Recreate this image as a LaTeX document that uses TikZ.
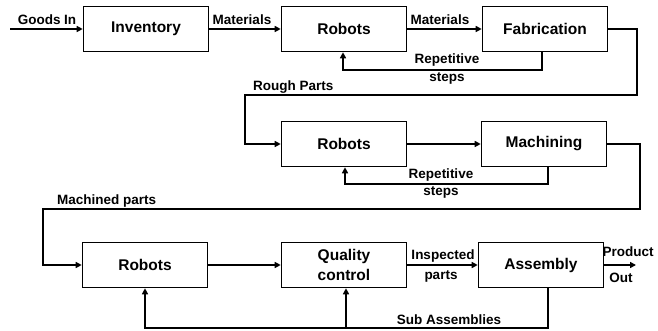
\documentclass[tikz,border=0pt]{standalone}
\usepackage{fontspec}
\setmainfont{Liberation Sans}
\usetikzlibrary{arrows.meta}
\begin{document}
\begin{tikzpicture}[x=1pt,y=-1pt,
  box/.style={draw,line width=1.6pt,minimum width=125pt,minimum height=45pt,inner sep=0pt,align=center,font=\fontsize{15.5}{20}\selectfont\bfseries},
  lbl/.style={inner sep=0pt,font=\fontsize{13.5}{15}\selectfont\bfseries},
  line/.style={line width=1.6pt},
  arr/.style={line width=1.6pt,-{Triangle[length=6pt,width=6pt]}}]
\useasboundingbox (0,0) rectangle (658,331);
% boxes
\node[box] (inv)  at (146,29) {Inventory};
\node[box] (rob1) at (344,29) {Robots};
\node[box] (fab)  at (545,29) {Fabrication};
\node[box] (rob2) at (344,144) {Robots};
\node[box] (mach) at (544,144) {Machining};
\node[box] (rob3) at (145,265) {Robots};
\node[box] (qc)   at (344,265) {Quality\\control};
\node[box] (asm)  at (541,265) {Assembly};
% coordinates
\coordinate (gin) at (10,29);
\coordinate (r1a) at (542,70);
\coordinate (r1b) at (343,70);
\coordinate (rpa) at (637,95);
\coordinate (rpb) at (245,144);
\coordinate (r2a) at (548,184);
\coordinate (r2b) at (345,184);
\coordinate (mpa) at (640,209);
\coordinate (mpb) at (43,265);
\coordinate (pout) at (636,265);
\coordinate (sa1) at (548,328);
\coordinate (sa2) at (145,328);
\coordinate (sa3) at (346,328);
% row 1
\draw[arr] (gin) -- (inv.west);
\draw[arr] (inv.east) -- (rob1.west);
\draw[arr] (rob1.east) -- (fab.west);
\draw[arr] (fab.south -| r1a) -- (r1a) -- (r1b) -- (rob1.south -| r1b);
\draw[arr] (fab.east) -| (rpa) -| (rpb) -- (rob2.west);
% row 2
\draw[arr] (rob2.east) -- (mach.west);
\draw[arr] (mach.south -| r2a) -- (r2a) -- (r2b) -- (rob2.south -| r2b);
\draw[arr] (mach.east) -| (mpa) -| (mpb) -- (rob3.west);
% row 3
\draw[arr] (rob3.east) -- (qc.west);
\draw[arr] (qc.east) -- (asm.west);
\draw[arr] (asm.east) -- (pout);
\draw[arr] (asm.south -| sa1) -- (sa1) -- (sa2) -- (rob3.south);
\draw[arr] (sa3) -- (qc.south -| sa3);
% labels
\node[lbl] (l1) at (47,20) {Goods In};
\node[lbl] (l2) at (242,20) {Materials};
\node[lbl] (l3) at (440,20) {Materials};
\node[lbl] (l4) at (447,60) {Repetitive};
\node[lbl] (l5) at (447,78) {steps};
\node[lbl,anchor=west] (l6) at (253,87) {Rough Parts};
\node[lbl] (l7) at (441,175) {Repetitive};
\node[lbl] (l8) at (441,192) {steps};
\node[lbl,anchor=west] (l9) at (57,201) {Machined parts};
\node[lbl] (l10) at (443,256) {Inspected};
\node[lbl] (l11) at (441,276) {parts};
\node[lbl] (l12) at (628,252) {Product};
\node[lbl] (l13) at (621,278) {Out};
\node[lbl] (l14) at (449,320) {Sub Assemblies};
\end{tikzpicture}
\end{document}
